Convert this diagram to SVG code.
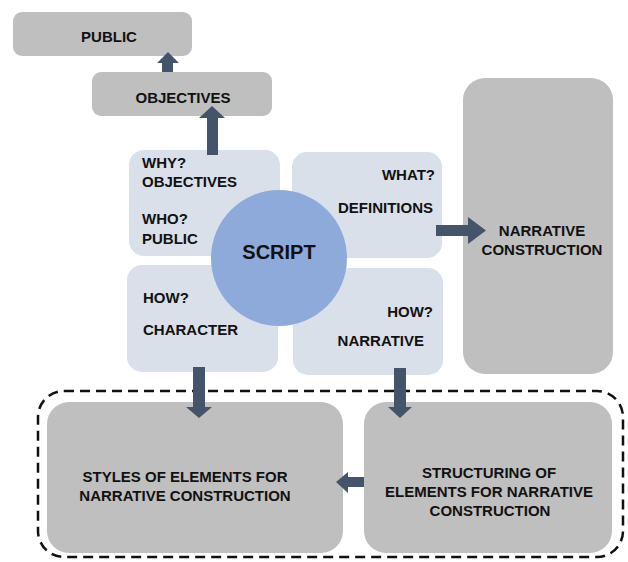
<svg xmlns="http://www.w3.org/2000/svg" width="628" height="562" viewBox="0 0 628 562">
<style>
.t{font-family:"Liberation Sans",Arial,sans-serif;font-weight:bold;font-size:15px;fill:#111}
.g{fill:#bfbfbf}
.q{fill:#d9e0ea}
.arr{fill:#44546a}
</style>
<rect width="628" height="562" fill="#ffffff"/>
<g id="public"><rect class="g" x="13" y="12" width="179" height="44" rx="9"/><text class="t" x="109" y="42" text-anchor="middle">PUBLIC</text></g>
<g id="objectives"><rect class="g" x="92" y="72" width="180" height="44" rx="9"/><text class="t" x="183" y="103" text-anchor="middle">OBJECTIVES</text></g>
<g id="q-why"><rect class="q" x="129" y="150" width="151" height="106" rx="15"/>
<text class="t" x="142" y="168">WHY?</text><text class="t" x="142" y="187">OBJECTIVES</text>
<text class="t" x="142" y="224">WHO?</text><text class="t" x="142" y="244">PUBLIC</text></g>
<g id="q-what"><rect class="q" x="292" y="152" width="150" height="106" rx="15"/>
<text class="t" x="435" y="180" text-anchor="end">WHAT?</text><text class="t" x="433" y="213" text-anchor="end">DEFINITIONS</text></g>
<g id="q-character"><rect class="q" x="127" y="265" width="151" height="107" rx="15"/>
<text class="t" x="143" y="303">HOW?</text><text class="t" x="143" y="335">CHARACTER</text></g>
<g id="q-narrative"><rect class="q" x="293" y="268" width="150" height="107" rx="15"/>
<text class="t" x="433" y="317" text-anchor="end">HOW?</text><text class="t" x="424" y="346" text-anchor="end">NARRATIVE</text></g>
<g id="script"><circle cx="279" cy="258" r="68" fill="#8eaadb"/><text class="t" x="279" y="259" text-anchor="middle" style="font-size:20px">SCRIPT</text></g>
<g id="narrative-construction"><rect class="g" x="463" y="78" width="150" height="296" rx="22"/>
<text class="t" x="542" y="236" text-anchor="middle">NARRATIVE</text><text class="t" x="542" y="255" text-anchor="middle">CONSTRUCTION</text></g>
<g id="group-box"><rect x="38" y="391" width="585" height="166" rx="26" fill="none" stroke="#111" stroke-width="2.5" stroke-dasharray="10 6"/></g>
<g id="styles"><rect class="g" x="47" y="402" width="296" height="151" rx="22"/>
<text class="t" x="185" y="482" text-anchor="middle">STYLES OF ELEMENTS FOR</text><text class="t" x="185" y="501" text-anchor="middle">NARRATIVE CONSTRUCTION</text></g>
<g id="structuring"><rect class="g" x="364" y="402" width="248" height="151" rx="22"/>
<text class="t" x="489" y="478" text-anchor="middle">STRUCTURING OF</text><text class="t" x="489" y="497" text-anchor="middle">ELEMENTS FOR NARRATIVE</text><text class="t" x="490" y="516" text-anchor="middle">CONSTRUCTION</text></g>
<g id="connectors">
<polygon class="arr" points="162,72 162,63 157,63 168,52 179,63 173,63 173,72"/>
<polygon class="arr" points="207,155 207,118 199,118 212,106 225,118 218,118 218,155"/>
<polygon class="arr" points="436,225 468,225 468,217 486,230.5 468,244 468,236 436,236"/>
<polygon class="arr" points="193,367 205,367 205,407 212,407 199,418 186,407 193,407"/>
<polygon class="arr" points="394,368 406,368 406,407 412,407 400,418 388,407 394,407"/>
<polygon class="arr" points="364,477 348,477 348,472 336,482 348,493 348,487 364,487"/>
</g>
</svg>
